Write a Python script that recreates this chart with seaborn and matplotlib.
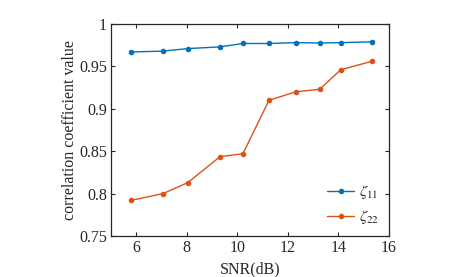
import numpy as np
import pandas as pd
import matplotlib
matplotlib.use("Agg")
import matplotlib.pyplot as plt
import seaborn as sns

# data
snr = [5.79, 7.06, 8.04, 9.31, 10.22, 11.25, 12.31, 13.26, 14.09, 15.32]
zeta11 = [0.967, 0.968, 0.971, 0.973, 0.977, 0.977, 0.978, 0.9776, 0.978, 0.979]
zeta22 = [0.792, 0.800, 0.813, 0.8435, 0.847, 0.910, 0.920, 0.923, 0.946, 0.956]
labels = [r"$\zeta_{11}$", r"$\zeta_{22}$"]
colors = ["#0072BD", "#D95319"]

df = pd.DataFrame({
    "snr": snr * 2,
    "value": zeta11 + zeta22,
    "series": [labels[0]] * len(snr) + [labels[1]] * len(snr),
})

sns.set_style("ticks")
plt.rcParams['font.family'] = ['Liberation Serif', 'DejaVu Serif']
plt.rcParams['mathtext.fontset'] = 'stix'

fig = plt.figure(figsize=(4.77, 2.77), dpi=100)
ax = fig.add_axes([0.2327, 0.148, 0.5828, 0.7654])

sns.lineplot(data=df, x="snr", y="value", hue="series", palette=colors,
             marker="o", markersize=4, markeredgewidth=0, linewidth=1.0,
             ax=ax)

ax.set_xlim(5, 16)
ax.set_ylim(0.75, 1)
ax.set_xticks([6, 8, 10, 12, 14, 16])
ax.set_yticks([0.75, 0.8, 0.85, 0.9, 0.95, 1])
ax.set_yticklabels(["0.75", "0.8", "0.85", "0.9", "0.95", "1"])
ax.set_xlabel("SNR(dB)", fontsize=11.5, labelpad=4)
ax.set_ylabel("correlation coefficient value", fontsize=11.5, labelpad=1)

ax.tick_params(direction="in", top=True, right=True, labelsize=11.5,
               length=3, width=0.8, colors="#262626", pad=3)
for sp in ax.spines.values():
    sp.set_visible(True)
    sp.set_color("#262626")
    sp.set_linewidth(0.9)

ax.legend(loc="lower right", frameon=False, fontsize=11.5, handlelength=1.7,
          handletextpad=0.3, labelspacing=0.45, borderaxespad=0.2)

fig.savefig("out.png", dpi=100)
